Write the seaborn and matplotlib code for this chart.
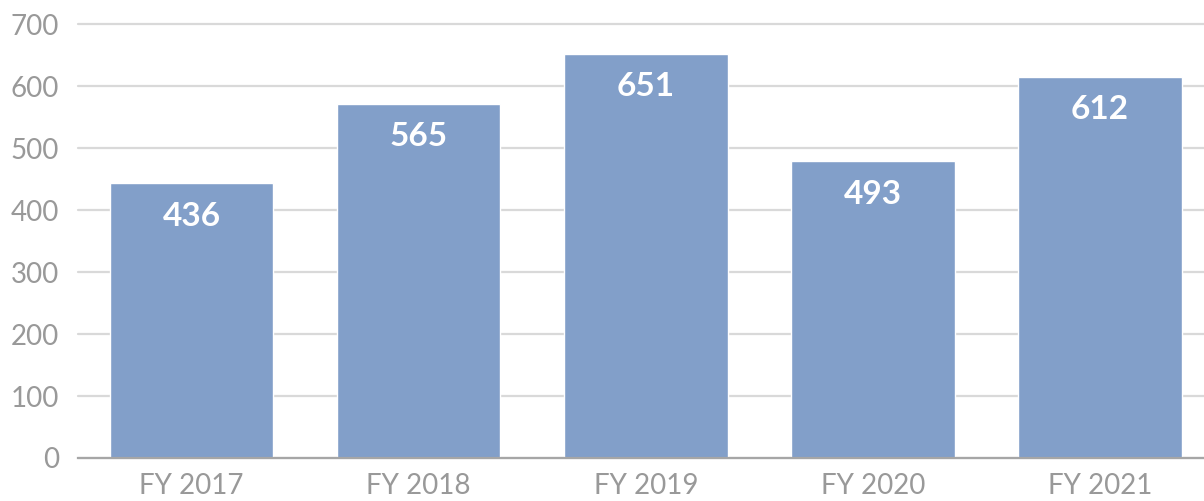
import matplotlib
matplotlib.use("Agg")
import matplotlib.pyplot as plt
import seaborn as sns
import pandas as pd

# values
years = ["FY 2017", "FY 2018", "FY 2019", "FY 2020", "FY 2021"]
bar_heights = [444, 572, 653, 479, 616]
bar_labels = ["436", "565", "651", "493", "612"]

df = pd.DataFrame({"Year": years, "Value": bar_heights})

sns.set_style("white")
plt.rcParams["font.family"] = ["Lato", "DejaVu Sans"]

fig = plt.figure(figsize=(12.04, 5.01), dpi=100)
ax = fig.add_axes([78 / 1204, 43 / 501, 1 - 78 / 1204, (458 - 24.5) / 501])

sns.barplot(data=df, x="Year", y="Value", color="#829fc9", saturation=1, width=0.72, ax=ax, zorder=2)

for i, (h, lab) in enumerate(zip(bar_heights, bar_labels)):
    ax.annotate(lab, (i, h), xytext=(0, -33), textcoords="offset pixels",
                ha="center", va="center", color="white", fontsize=24, fontweight="bold")

ax.set_ylim(0, 700)
ax.set_xlim(-0.5, 4.458)
ax.set_yticks(range(0, 701, 100))
ax.grid(axis="y", color="#d9d9d9", linewidth=1.6, zorder=0)
for gl in ax.get_ygridlines():
    gl.set_clip_on(False)
ax.set_axisbelow(True)
for s in ["top", "right", "left"]:
    ax.spines[s].set_visible(False)
ax.spines["bottom"].set_color("#a6a6a6")
ax.spines["bottom"].set_linewidth(1.6)
ax.spines["bottom"].set_zorder(3)

ax.tick_params(axis="y", length=8.6, width=1.6, color="#a6a6a6", pad=5, labelsize=20, labelcolor="#999999")
for t in ax.yaxis.get_major_ticks()[1:]:
    t.tick1line.set_visible(False)
ax.tick_params(axis="x", length=0, pad=11, labelsize=20, labelcolor="#999999")
ax.set_xlabel("")
ax.set_ylabel("")

fig.savefig("out.png", dpi=100)
